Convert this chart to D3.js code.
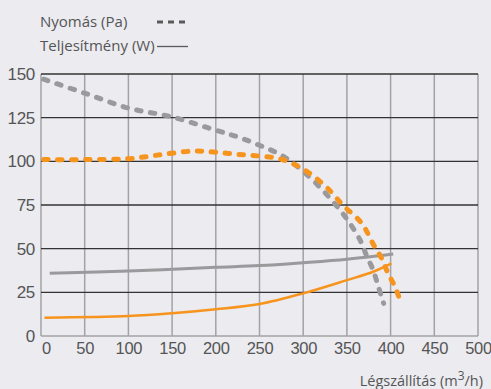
<!DOCTYPE html>
<html>
<head>
<meta charset="utf-8">
<script src="https://cdn.jsdelivr.net/npm/d3@7"></script>
<style>
  body { margin: 0; background: #ebebf0; }
  svg { display: block; font-family: "Open Sans", sans-serif; }
  .tick text { fill: #555; }
</style>
</head>
<body>
<div id="chart"></div>
<script>
// Tengelyek
var xTicks = [0, 50, 100, 150, 200, 250, 300, 350, 400, 450, 500];
var yTicks = [0, 25, 50, 75, 100, 125, 150];

// Nyomás (Pa) - szürke szaggatott
var pressGrayX = [3, 50, 100, 150, 200, 225, 250, 275, 300, 325, 348, 365, 373, 380, 386, 392];
var pressGrayY = [147, 139, 130.5, 125.4, 117.8, 114, 109.2, 103.5, 94.3, 82, 68.3, 55, 45.4, 37.8, 28.2, 18.7];

// Nyomás (Pa) - narancs szaggatott
var pressOrangeX = [3, 50, 100, 140, 175, 200, 225, 250, 275, 300, 325, 346, 367, 380, 390, 397, 405, 412];
var pressOrangeY = [101, 101, 101.5, 104, 105.9, 105.2, 104, 103, 101.2, 95.5, 86, 74.6, 64.5, 52.7, 44.2, 35.9, 28.2, 18.7];

// Teljesítmény (W) - szürke folytonos
var powerGrayX = [10, 100, 200, 250, 300, 350, 403];
var powerGrayY = [35.9, 37.2, 39.3, 40.3, 42, 44, 47];

// Teljesítmény (W) - narancs folytonos
var powerOrangeX = [4, 100, 150, 200, 250, 300, 350, 380, 401];
var powerOrangeY = [10.5, 11.4, 13, 15.3, 18.3, 24.4, 32, 36.8, 41.6];

var width = 491, height = 389;
var margin = { top: 74, right: 13, bottom: 53, left: 41 };
var w = width - margin.left - margin.right;
var h = height - margin.top - margin.bottom;

var svg = d3.select('#chart').append('svg')
    .attr('width', width)
    .attr('height', height);

var g = svg.append('g')
    .attr('transform', 'translate(' + margin.left + ',' + margin.top + ')');

var x = d3.scaleLinear().domain([0, 500]).range([0, w]);
var y = d3.scaleLinear().domain([0, 150]).range([h, 0]);

// Függőleges rácsvonalak
g.append('g')
    .selectAll('line')
    .data(xTicks)
    .enter().append('line')
    .attr('x1', d => x(d)).attr('x2', d => x(d))
    .attr('y1', 0).attr('y2', h)
    .attr('stroke', '#a3a3a6')
    .attr('stroke-width', 1.5);

// Vízszintes rácsvonalak
g.append('g')
    .selectAll('line')
    .data(yTicks.filter(d => d > 0))
    .enter().append('line')
    .attr('x1', 0).attr('x2', w)
    .attr('y1', d => y(d)).attr('y2', d => y(d))
    .attr('stroke', '#333')
    .attr('stroke-width', 1.3);

g.append('line')
    .attr('x1', 0).attr('x2', w)
    .attr('y1', h).attr('y2', h)
    .attr('stroke', '#a3a3a6')
    .attr('stroke-width', 1.5);

// Tengelyfeliratok
var xAxis = g.append('g')
    .attr('transform', 'translate(0,' + h + ')')
    .call(d3.axisBottom(x).tickValues(xTicks).tickSize(0).tickPadding(6));
xAxis.select('.domain').remove();
xAxis.selectAll('text').attr('font-size', 16.5).attr('letter-spacing', -0.3).attr('dy', '0.71em');
xAxis.selectAll('.tick').filter(d => d === 0).select('text').attr('dx', 5);

var yAxis = g.append('g')
    .call(d3.axisLeft(y).tickValues(yTicks).tickSize(0).tickPadding(6));
yAxis.select('.domain').remove();
yAxis.selectAll('text').attr('font-size', 17).attr('letter-spacing', -0.3);

function lineOf(xs, ys) {
    return d3.line()
        .x((d, i) => x(xs[i]))
        .y((d, i) => y(ys[i]))
        .curve(d3.curveCatmullRom.alpha(0.5))(xs);
}

// Folytonos vonalak
g.append('path')
    .attr('d', lineOf(powerGrayX, powerGrayY))
    .attr('fill', 'none')
    .attr('stroke', '#9a9a9c')
    .attr('stroke-width', 3);

g.append('path')
    .attr('d', lineOf(powerOrangeX, powerOrangeY))
    .attr('fill', 'none')
    .attr('stroke', '#f7941d')
    .attr('stroke-width', 2.5);

// Szaggatott vonalak
g.append('path')
    .attr('d', lineOf(pressGrayX, pressGrayY))
    .attr('fill', 'none')
    .attr('stroke', '#9a9a9c')
    .attr('stroke-width', 5)
    .attr('stroke-linecap', 'round')
    .attr('stroke-dasharray', '4.5,9.5');

g.append('path')
    .attr('d', lineOf(pressOrangeX, pressOrangeY))
    .attr('fill', 'none')
    .attr('stroke', '#f7941d')
    .attr('stroke-width', 5)
    .attr('stroke-linecap', 'round')
    .attr('stroke-dasharray', '4.5,9.5');

// Jelmagyarázat
var legend = svg.append('g').attr('fill', '#555').attr('font-size', 15);
legend.append('text').attr('x', 40).attr('y', 27).text('Nyomás (Pa)');
legend.append('line')
    .attr('x1', 157).attr('x2', 188).attr('y1', 22).attr('y2', 22)
    .attr('stroke', '#5a5a5a').attr('stroke-width', 3)
    .attr('stroke-dasharray', '6,5');
legend.append('text').attr('x', 40).attr('y', 51).text('Teljesítmény (W)');
legend.append('line')
    .attr('x1', 157).attr('x2', 188).attr('y1', 46.5).attr('y2', 46.5)
    .attr('stroke', '#5a5a5a').attr('stroke-width', 1.3);

// X tengely címe
var xt = svg.append('text')
    .attr('x', 483).attr('y', 386)
    .attr('text-anchor', 'end')
    .attr('fill', '#555')
    .attr('font-size', 14.5);
xt.append('tspan').text('Légszállítás (m');
xt.append('tspan').attr('dy', -6).attr('font-size', 12).text('3');
xt.append('tspan').attr('dy', 6).text('/h)');
</script>
</body>
</html>
